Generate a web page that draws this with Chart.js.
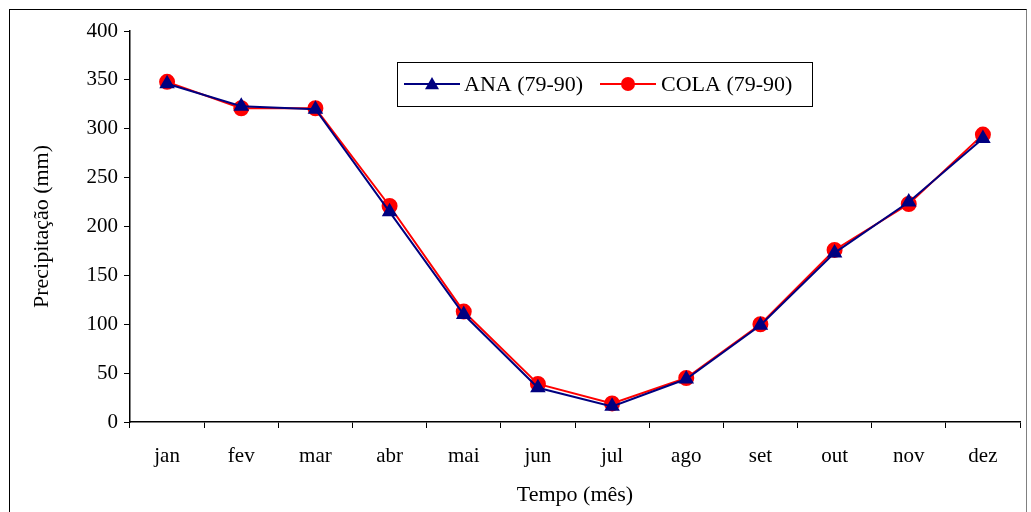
<!DOCTYPE html>
<html>
<head>
<meta charset="utf-8">
<script src="https://cdn.jsdelivr.net/npm/chart.js@4/dist/chart.umd.min.js"></script>
<style>
  html, body { margin: 0; padding: 0; background: #fff; }
  #wrap { position: relative; width: 1031px; height: 512px; overflow: hidden; }
  #frame { position: absolute; left: 9px; top: 9px; width: 1018px; height: 520px; border: 1px solid #000; border-right-color: #808080; box-sizing: border-box; }
  canvas { position: absolute; left: 0; top: 0; }
</style>
</head>
<body>
<div id="wrap">
  <div id="frame"></div>
  <canvas id="chuvaChart" width="1031" height="512"></canvas>
</div>
<script>
const meses = ['jan', 'fev', 'mar', 'abr', 'mai', 'jun', 'jul', 'ago', 'set', 'out', 'nov', 'dez'];
const anaValores = [346, 323, 320, 215, 110, 35, 16, 44, 99, 173, 225, 290];
const colaValores = [348, 321, 321, 221, 113, 39, 19, 45, 100, 176, 223, 294];
const nomesSeries = ['ANA (79-90)', 'COLA (79-90)'];

const fonte = 'Liberation Serif, Times New Roman, serif';

// legend box drawn by hand so each entry shows line + marker like the original
const legendaPlugin = {
    id: 'legendaCaixa',
    afterDraw(chart) {
        const ctx = chart.ctx;
        const x0 = 397, y0 = 62, w = 415, h = 44;
        const cy = y0 + h / 2;
        ctx.save();
        ctx.strokeStyle = '#000';
        ctx.lineWidth = 1;
        ctx.strokeRect(x0 + 0.5, y0 + 0.5, w, h);
        ctx.font = '22px ' + fonte;
        ctx.textBaseline = 'middle';

        const itens = [
            { ds: chart.data.datasets[0], lx: 404, tx: 464 },
            { ds: chart.data.datasets[1], lx: 600, tx: 661 }
        ];
        itens.forEach(it => {
            const mx = it.lx + 28;
            ctx.strokeStyle = it.ds.borderColor;
            ctx.lineWidth = 2;
            ctx.beginPath();
            ctx.moveTo(it.lx, cy);
            ctx.lineTo(it.lx + 56, cy);
            ctx.stroke();
            ctx.fillStyle = it.ds.pointBackgroundColor;
            ctx.beginPath();
            if (it.ds.pointStyle === 'triangle') {
                const r = it.ds.pointRadius;
                ctx.moveTo(mx, cy - r);
                ctx.lineTo(mx + r, cy + r * 0.75);
                ctx.lineTo(mx - r, cy + r * 0.75);
                ctx.closePath();
            } else {
                ctx.arc(mx, cy, it.ds.pointRadius, 0, Math.PI * 2);
            }
            ctx.fill();
            ctx.fillStyle = '#000';
            ctx.fillText(it.ds.label, it.tx, cy + 1);
        });
        ctx.restore();
    }
};

new Chart(document.getElementById('chuvaChart'), {
    type: 'line',
    data: {
        labels: meses,
        datasets: [
            {
                label: nomesSeries[0],
                data: anaValores,
                borderColor: '#000080',
                backgroundColor: '#000080',
                pointBackgroundColor: '#000080',
                pointBorderColor: '#000080',
                pointStyle: 'triangle',
                pointRadius: 7,
                borderWidth: 2,
                tension: 0
            },
            {
                label: nomesSeries[1],
                data: colaValores,
                borderColor: '#ff0000',
                backgroundColor: '#ff0000',
                pointBackgroundColor: '#ff0000',
                pointBorderColor: '#ff0000',
                pointStyle: 'circle',
                pointRadius: 7,
                borderWidth: 2,
                tension: 0
            }
        ]
    },
    options: {
        responsive: false,
        animation: false,
        layout: { padding: { left: 20, top: 31, right: 11, bottom: 0 } },
        plugins: {
            legend: { display: false },
            tooltip: { enabled: false }
        },
        scales: {
            x: {
                offset: true,
                grid: { drawOnChartArea: false, drawTicks: true, tickLength: 6, color: '#000', offset: true },
                border: { display: true, color: '#000', width: 1.5 },
                ticks: { color: '#000', font: { family: fonte, size: 21 }, padding: 16, maxRotation: 0 },
                title: { display: true, text: 'Tempo (mês)', color: '#000', font: { family: fonte, size: 22 }, padding: { top: 8 } },
                afterFit: s => { s.height = 90; }
            },
            y: {
                min: 0,
                max: 400,
                ticks: { stepSize: 50, color: '#000', font: { family: fonte, size: 21 }, padding: 6 },
                grid: { drawOnChartArea: false, drawTicks: true, tickLength: 6, color: '#000' },
                border: { display: true, color: '#000', width: 1.5 },
                title: { display: true, text: 'Precipitação (mm)', color: '#000', font: { family: fonte, size: 22 }, padding: { top: 9, bottom: 0 } },
                afterFit: s => { s.width = 110; }
            }
        }
    },
    plugins: [legendaPlugin]
});
</script>
</body>
</html>
